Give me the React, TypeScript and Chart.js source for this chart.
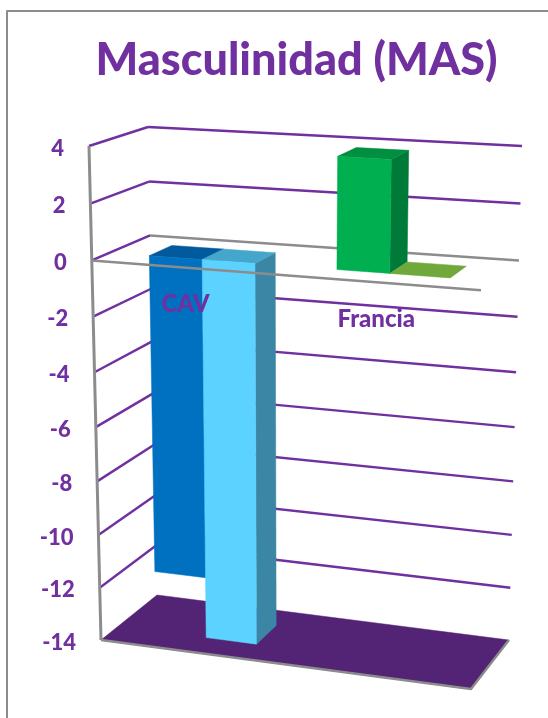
import React, { useEffect, useRef } from "react";
import { Chart, LinearScale, registerables } from "chart.js";

const categories = ["CAV", "Francia"];
const seriesOne = [-11.7, 3.9];
const seriesTwo = [-14, 0];
const yMin = -14;
const yMax = 4;
const yStep = 2;

const PURPLE = "#7030A0";
const GREY = "#8C8C8C";
const FLOOR = "#532375";

const seriesOneFront = ["#0070C0", "#00B050"];
const seriesOneTop = ["#005A9C", "#008E40"];
const seriesOneSide = ["#005A9C", "#007A38"];
const seriesTwoFront = ["#5BD2FF", "#70A83B"];
const seriesTwoTop = ["#45A6CC", "#70A83B"];
const seriesTwoSide = ["#3B86A5", "#5A8A30"];

// Value axis with a slight foreshortening, as seen in a perspective view.
const FORESHORTEN = 0.055;
class PerspectiveScale extends LinearScale {
  static id = "perspective";
  getPixelForValue(value: number) {
    const s = ((this as any).max - value) / ((this as any).max - (this as any).min);
    const warped = s + FORESHORTEN * s * (1 - s);
    return (this as any).top + warped * (this as any).height;
  }
}

Chart.register(...registerables, PerspectiveScale);

type Pt = { x: number; y: number };
// Box corners of the 3D plot: each vertical edge runs from the top of the value range to the bottom.
const EDGES = {
  frontLeft: { top: { x: 89, y: 146 }, bottom: { x: 101, y: 640 } },
  frontRight: { top: { x: 484, y: 170 }, bottom: { x: 471, y: 689 } },
  backLeft: { top: { x: 148, y: 127 }, bottom: { x: 157, y: 595 } },
  backRight: { top: { x: 522, y: 146 }, bottom: { x: 509, y: 640 } },
};
const lerp = (a: number, b: number, t: number) => a + (b - a) * t;
const lerpPt = (a: Pt, b: Pt, t: number): Pt => ({ x: lerp(a.x, b.x, t), y: lerp(a.y, b.y, t) });

const DEPTH_FRONT = 0.31;
const DEPTH_BACK = 0.71;
const BAR_WIDTH = 0.138;
const WIDE_BAR_WIDTH = 0.158;
const CATEGORY_SHIFT = [-0.009, -0.019];
const LABEL_DROP = 37;
const TICK_GAP = 25;
const TICK_NUDGE = 2.5;
const TICK_FONT = "900 22px Lato";
const CATEGORY_FONT = "900 24px Lato";

const perspectivePlugin = {
  id: "perspectivePlot",
  beforeDatasetsDraw(chart: any) {
    const { ctx, chartArea, scales } = chart;
    const yScale = scales.y;
    const xScale = scales.x;

    // Projects (across, depth, value) to canvas coordinates.
    const project = (u: number, d: number, value: number): Pt => {
      const t = (yScale.getPixelForValue(value) - chartArea.top) / chartArea.height;
      const fl = lerpPt(EDGES.frontLeft.top, EDGES.frontLeft.bottom, t);
      const fr = lerpPt(EDGES.frontRight.top, EDGES.frontRight.bottom, t);
      const bl = lerpPt(EDGES.backLeft.top, EDGES.backLeft.bottom, t);
      const br = lerpPt(EDGES.backRight.top, EDGES.backRight.bottom, t);
      return lerpPt(lerpPt(fl, fr, u), lerpPt(bl, br, u), d);
    };
    const line = (points: Pt[], color: string, width = 2.4) => {
      ctx.beginPath();
      points.forEach((p, i) => (i ? ctx.lineTo(p.x, p.y) : ctx.moveTo(p.x, p.y)));
      ctx.strokeStyle = color;
      ctx.lineWidth = width;
      ctx.lineJoin = "round";
      ctx.stroke();
    };
    const face = (points: Pt[], color: string) => {
      ctx.beginPath();
      points.forEach((p, i) => (i ? ctx.lineTo(p.x, p.y) : ctx.moveTo(p.x, p.y)));
      ctx.closePath();
      ctx.fillStyle = color;
      ctx.strokeStyle = color;
      ctx.lineWidth = 0.5;
      ctx.fill();
      ctx.stroke();
    };
    const categoryCentre = (i: number) =>
      (xScale.getPixelForValue(i) - xScale.left) / xScale.width + CATEGORY_SHIFT[i];

    ctx.save();

    // Outer frame of the chart object (top and left sides).
    line([{ x: 7, y: chart.height }, { x: 7, y: 11 }, { x: chart.width, y: 11 }], GREY, 2);

    // Gridlines on the side and back walls.
    const ticks = yScale.ticks.map((t: any) => t.value);
    ticks.forEach((value: number) => {
      if (value === yMin) return;
      line([project(0, 0, value), project(0, 1, value)], PURPLE);
      line([project(0, 1, value), project(1, 1, value)], value === 0 ? GREY : PURPLE);
    });

    // Floor.
    face([project(0, 0, yMin), project(1, 0, yMin), project(1, 1, yMin), project(0, 1, yMin)], FLOOR);
    line([project(0, 0, yMin), project(1, 0, yMin), project(1, 1, yMin)], GREY);

    // Value axis line and its tick labels.
    line([project(0, 0, yMax), project(0, 0, yMin)], GREY, 3);
    ctx.font = TICK_FONT;
    ctx.fillStyle = PURPLE;
    ctx.textAlign = "right";
    ctx.textBaseline = "middle";
    yScale.ticks.forEach((tick: any) => {
      const p = project(0, 0, tick.value);
      ctx.fillText(String(tick.label), p.x - TICK_GAP, p.y + TICK_NUDGE);
    });

    // Bars as boxes, series by series from the left of each category.
    const drawBox = (i: number, seriesIndex: number, dataset: any) => {
      const value = dataset.data[i];
      const u0 = categoryCentre(i) + (seriesIndex - 1) * BAR_WIDTH;
      // The zero-height bar sits nearest the viewer's right and spreads a little wider.
      const u1 = u0 + (value === 0 ? WIDE_BAR_WIDTH : BAR_WIDTH);
      const hi = Math.max(value, 0);
      const lo = Math.min(value, 0);
      if (hi !== lo) {
        face(
          [project(u1, DEPTH_FRONT, hi), project(u1, DEPTH_BACK, hi), project(u1, DEPTH_BACK, lo), project(u1, DEPTH_FRONT, lo)],
          dataset.sideColor[i]
        );
      }
      face(
        [project(u0, DEPTH_FRONT, hi), project(u1, DEPTH_FRONT, hi), project(u1, DEPTH_BACK, hi), project(u0, DEPTH_BACK, hi)],
        dataset.topColor[i]
      );
      if (hi !== lo) {
        face(
          [project(u0, DEPTH_FRONT, hi), project(u1, DEPTH_FRONT, hi), project(u1, DEPTH_FRONT, lo), project(u0, DEPTH_FRONT, lo)],
          dataset.backgroundColor[i]
        );
      }
    };
    categories.forEach((_, i) => {
      chart.data.datasets.forEach((dataset: any, seriesIndex: number) => drawBox(i, seriesIndex, dataset));
    });

    // Category axis line at zero, in front of the bars, with its labels.
    line([project(0, 0, 0), project(1, 0, 0)], GREY);
    ctx.font = CATEGORY_FONT;
    ctx.fillStyle = PURPLE;
    ctx.textAlign = "center";
    categories.forEach((name, i) => {
      const p = project(categoryCentre(i), 0, 0);
      ctx.fillText(name, p.x, p.y + LABEL_DROP);
    });

    ctx.restore();
  },
  // The boxes above replace the flat rectangles of the bar controller.
  beforeDatasetDraw() {
    return false;
  },
};

export default function App() {
  const canvasRef = useRef<HTMLCanvasElement>(null);

  useEffect(() => {
    const chart = new Chart(canvasRef.current as HTMLCanvasElement, {
      type: "bar",
      data: {
        labels: categories,
        datasets: [
          { label: "Serie 1", data: seriesOne, backgroundColor: seriesOneFront, topColor: seriesOneTop, sideColor: seriesOneSide } as any,
          { label: "Serie 2", data: seriesTwo, backgroundColor: seriesTwoFront, topColor: seriesTwoTop, sideColor: seriesTwoSide } as any,
        ],
      },
      options: {
        responsive: false,
        animation: false,
        layout: { padding: { left: 90, right: 45, bottom: 78, top: 0 } },
        plugins: {
          legend: { display: false },
          tooltip: { enabled: false },
          title: {
            display: true,
            text: "Masculinidad (MAS)",
            color: PURPLE,
            font: { family: "Lato", size: 45, weight: "900" },
            padding: { top: 33, bottom: 59 },
          },
        },
        scales: {
          x: { type: "category", display: false },
          y: { type: "perspective", display: false, min: yMin, max: yMax, ticks: { stepSize: yStep } },
        },
      } as any,
      plugins: [perspectivePlugin],
    });
    return () => chart.destroy();
  }, []);

  return (
    <div style={{ position: "fixed", left: 0, top: 0 }}>
      <canvas ref={canvasRef} width={548} height={718} style={{ display: "block" }} />
    </div>
  );
}
